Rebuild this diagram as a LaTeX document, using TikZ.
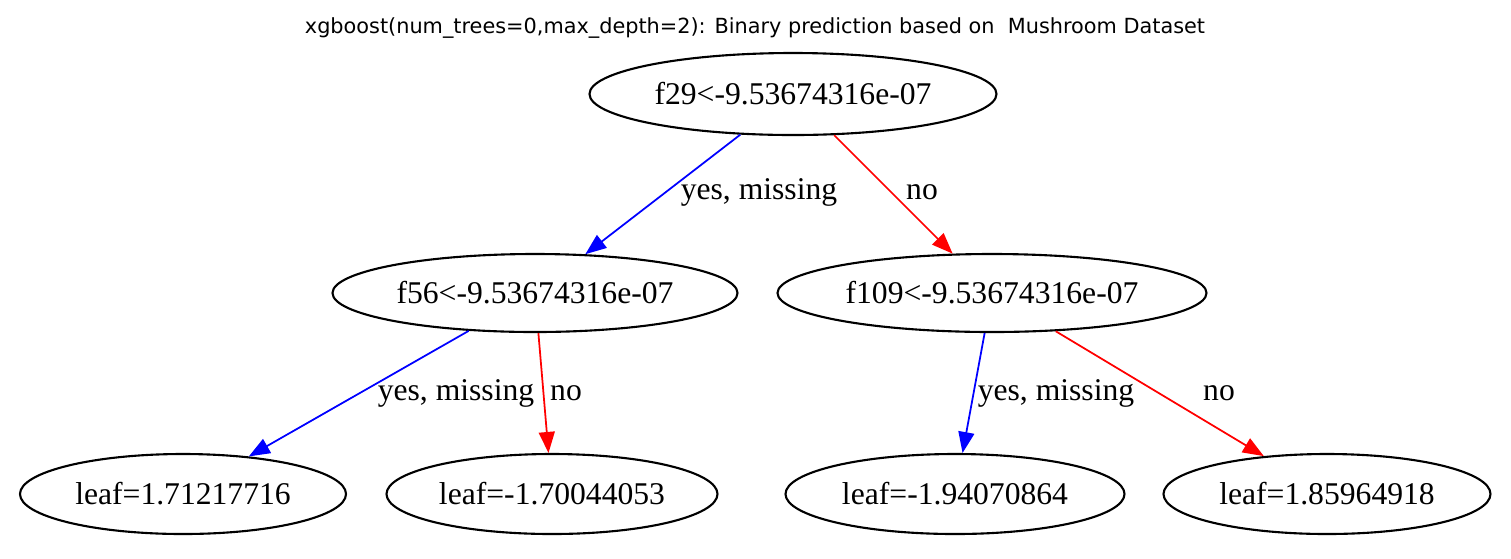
\documentclass[tikz,border=0pt]{standalone}
\usepackage{fontspec}
\setmainfont{Liberation Serif}
\newfontfamily\titlefont{DejaVu Sans}
\usetikzlibrary{shapes.geometric,arrows.meta}

\begin{document}
\begin{tikzpicture}[
  split/.style={ellipse,draw,line width=1.2pt,inner sep=0pt,minimum height=1.6cm,font=\fontsize{18}{20}\selectfont},  leaf/.style={split,minimum width=6.6cm},  elabel/.style={inner sep=0pt,font=\fontsize{18}{20}\selectfont},  edge/.style={line width=1pt,-{Triangle[length=0.42cm,width=0.32cm]}}
]
  \useasboundingbox (0,0) rectangle (30.22,-11.16);
  \node[font=\titlefont\fontsize{11.85}{14}\selectfont,inner sep=0pt] (title) at (15.10,-0.56) {xgboost(num\_trees=0,max\_depth=2): Binary prediction based on\ \ Mushroom Dataset};
  \node[split,minimum width=8.14cm,minimum height=1.64cm] (n0) at (15.86,-1.88) {f29<-9.53674316e-07};
  \node[split,minimum width=8.10cm,minimum height=1.56cm] (n1) at (10.70,-5.86) {f56<-9.53674316e-07};
  \node[split,minimum width=8.58cm,minimum height=1.56cm] (n2) at (19.84,-5.86) {f109<-9.53674316e-07};
  \node[leaf,minimum width=6.52cm] (n3) at (3.66,-9.88) {leaf=1.71217716};
  \node[leaf,minimum width=6.62cm] (n4) at (11.04,-9.88) {leaf=-1.70044053};
  \node[leaf,minimum width=6.78cm] (n5) at (19.10,-9.88) {leaf=-1.94070864};
  \node[leaf,minimum width=6.54cm] (n6) at (26.54,-9.88) {leaf=1.85964918};
  \node[elabel] (l01) at (15.18,-3.84) {yes, missing};
  \node[elabel] (l02) at (18.44,-3.84) {no};
  \node[elabel] (l13) at (9.12,-7.86) {yes, missing};
  \node[elabel] (l14) at (11.32,-7.86) {no};
  \node[elabel] (l25) at (21.12,-7.86) {yes, missing};
  \node[elabel] (l26) at (24.38,-7.86) {no};
  \draw[edge,blue] (n0) -- (n1);
  \draw[edge,red] (n0) -- (n2);
  \draw[edge,blue] (n1) -- (n3);
  \draw[edge,red] (n1) -- (n4);
  \draw[edge,blue] (n2) -- (n5);
  \draw[edge,red] (n2) -- (n6);
\end{tikzpicture}
\end{document}
